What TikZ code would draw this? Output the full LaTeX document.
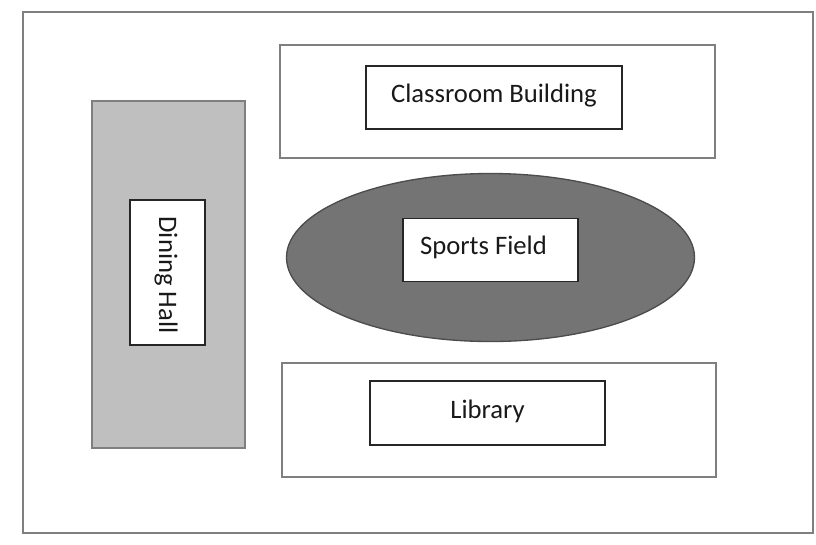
\documentclass[tikz,border=0pt]{standalone}
\usepackage{fontspec}
\setmainfont{Carlito}
\usetikzlibrary{shapes.geometric}
\definecolor{lightg}{HTML}{BFBFBF}
\definecolor{darkg}{HTML}{747474}
\definecolor{edgeg}{HTML}{7F7F7F}
\tikzset{
  zone/.style={draw=edgeg, line width=1.2pt},
  labelbox/.style={draw=black!85, fill=white, line width=0.8pt, inner sep=0pt, anchor=center},
  txt/.style={font=\fontsize{20}{24}\selectfont, inner sep=0pt, text=black!90},
}
\begin{document}
\begin{tikzpicture}[x=0.75pt,y=-0.75pt]
\useasboundingbox (0,0) rectangle (816,544);
\fill[white] (0,0) rectangle (816,544);
\draw[zone] (23,12) rectangle (813,533);
% Dining hall
\draw[zone, fill=lightg] (92,101) rectangle (245,448);
\node[labelbox, minimum width=75*0.75pt, minimum height=145*0.75pt] (dh) at (167.5,272.5) {};
\node[txt, rotate=-90] (dht) at (166,275) {Dining Hall};
% Classroom
\draw[zone] (280,45) rectangle (715,158);
\node[labelbox, minimum width=256*0.75pt, minimum height=63*0.75pt] (cb) at (494,97.5) {};
\node[txt] (cbt) at (494,96) {Classroom Building};
% Sports field
\node[ellipse, draw=black!70, fill=darkg, line width=1pt, minimum width=408*0.75pt, minimum height=168*0.75pt, inner sep=0pt] (sfe) at (490.5,257.5) {};
\node[labelbox, minimum width=175*0.75pt, minimum height=63*0.75pt] (sf) at (490.5,250) {};
\node[txt] (sft) at (483.5,247) {Sports Field};
% Library
\draw[zone] (282,363) rectangle (716,477);
\node[labelbox, minimum width=235*0.75pt, minimum height=64*0.75pt] (lib) at (487.5,413) {};
\node[txt] (libt) at (487.5,411) {Library};
\end{tikzpicture}
\end{document}
